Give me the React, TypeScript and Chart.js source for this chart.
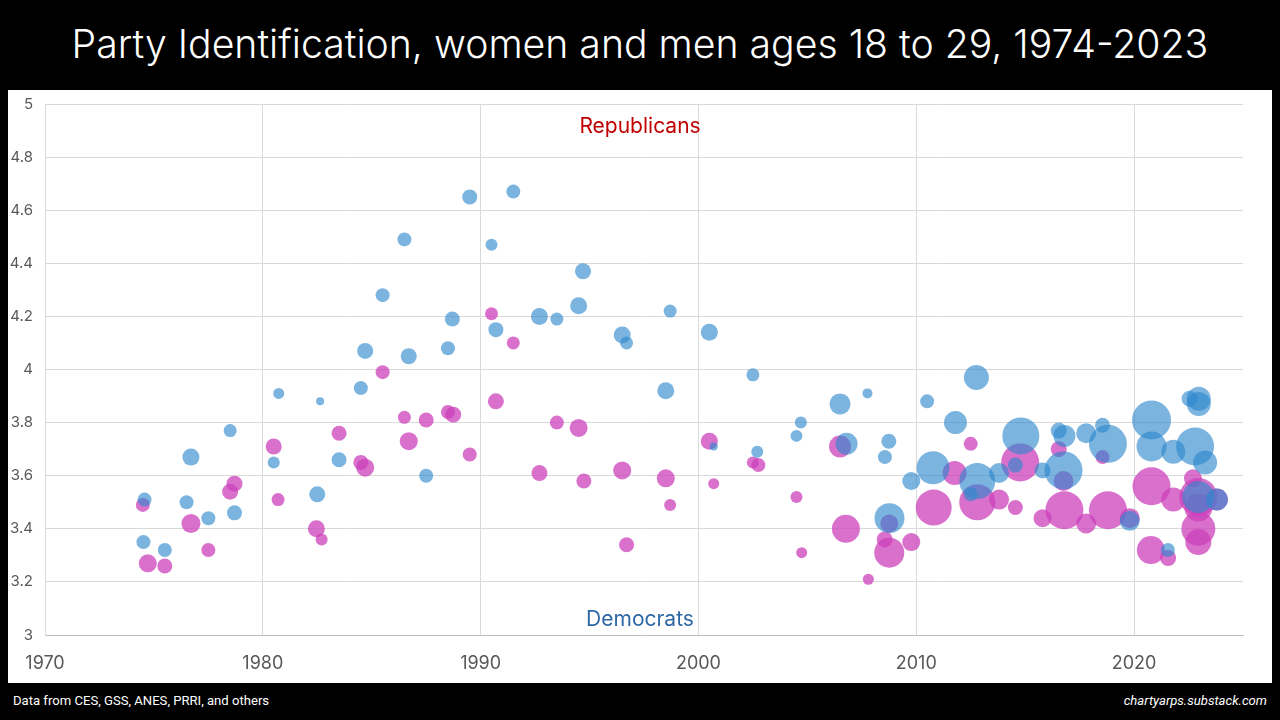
import React, { useEffect, useRef } from "react";
import { Chart, registerables } from "chart.js";

Chart.register(...registerables);

const titleText = "Party Identification, women and men ages 18 to 29, 1974-2023";
const sourceText = "Data from CES, GSS, ANES, PRRI, and others";
const siteText = "chartyarps.substack.com";

const xTicks = [1970, 1980, 1990, 2000, 2010, 2020];
const yTicks = [3, 3.2, 3.4, 3.6, 3.8, 4, 4.2, 4.4, 4.6, 4.8, 5];

// Men: survey year, mean party ID (1 = Democrat ... 7 = Republican), bubble size
const menYear = [
  1974.57, 1974.52, 1975.5, 1976.5, 1976.7, 1977.5, 1978.5, 1978.7, 1980.5, 1980.73,
  1982.5, 1982.63, 1983.5, 1984.5, 1984.7, 1985.5, 1986.5, 1986.7, 1987.5, 1988.5,
  1988.7, 1989.5, 1990.5, 1990.7, 1991.5, 1992.7, 1993.5, 1994.5, 1994.7, 1996.5,
  1996.7, 1998.5, 1998.7, 2000.5, 2000.7, 2002.5, 2002.7, 2004.5, 2004.7, 2006.5,
  2006.8, 2007.76, 2008.56, 2008.74, 2008.77, 2009.77, 2010.5, 2010.77, 2011.8, 2012.5,
  2012.76, 2012.8, 2013.8, 2014.55, 2014.8, 2015.8, 2016.54, 2016.8, 2016.76, 2017.8,
  2018.55, 2018.8, 2019.8, 2020.8, 2020.8, 2021.55, 2021.8, 2022.55, 2022.8, 2022.97,
  2022.97, 2023.26, 2022.95, 2023.8,
];
const menPid = [
  3.51, 3.35, 3.32, 3.5, 3.67, 3.44, 3.77, 3.46, 3.65, 3.91,
  3.53, 3.88, 3.66, 3.93, 4.07, 4.28, 4.49, 4.05, 3.6, 4.08,
  4.19, 4.65, 4.47, 4.15, 4.67, 4.2, 4.19, 4.24, 4.37, 4.13,
  4.1, 3.92, 4.22, 4.14, 3.71, 3.98, 3.69, 3.75, 3.8, 3.87,
  3.72, 3.91, 3.67, 3.73, 3.44, 3.58, 3.88, 3.63, 3.8, 3.53,
  3.97, 3.58, 3.61, 3.64, 3.75, 3.62, 3.77, 3.75, 3.62, 3.76,
  3.79, 3.72, 3.43, 3.81, 3.71, 3.32, 3.69, 3.89, 3.71, 3.89,
  3.87, 3.65, 3.52, 3.51,
];
const menSize = [
  7, 7, 7, 7, 8.5, 7, 6.5, 7.5, 6, 5.5,
  8, 4, 7.5, 7, 8, 7, 7, 8, 7, 7,
  7.5, 7.5, 6, 7.5, 7, 8.5, 6.5, 8.5, 8, 8.5,
  6.5, 8.5, 6.5, 8.5, 4, 6.5, 6, 6, 6, 10.5,
  11, 5, 7, 7.5, 15, 9, 7, 16.5, 11.5, 7,
  12.5, 18, 10, 7.5, 18.5, 8, 8, 11, 19, 10,
  7.5, 19, 10, 19.5, 15, 7, 12, 8, 19, 12,
  12, 12, 16, 11,
];

// Women: survey year, mean party ID, bubble size
const womenYear = [
  1974.49, 1974.72, 1975.5, 1976.7, 1977.5, 1978.5, 1978.7, 1980.5, 1980.7, 1982.46,
  1982.7, 1983.5, 1984.5, 1984.7, 1985.5, 1986.5, 1986.7, 1987.5, 1988.5, 1988.74,
  1989.5, 1990.5, 1990.7, 1991.5, 1992.7, 1993.5, 1994.5, 1994.74, 1996.5, 1996.7,
  1998.5, 1998.7, 2000.5, 2000.7, 2002.5, 2002.75, 2004.5, 2004.74, 2006.5, 2006.77,
  2007.8, 2008.55, 2008.76, 2008.76, 2009.77, 2010.8, 2011.76, 2012.5, 2012.8, 2013.8,
  2014.55, 2014.77, 2015.8, 2016.54, 2016.76, 2016.8, 2017.8, 2018.55, 2018.8, 2019.8,
  2020.77, 2020.8, 2021.56, 2021.8, 2022.7, 2022.95, 2022.95, 2022.95, 2022.95, 2023.8,
];
const womenPid = [
  3.49, 3.27, 3.26, 3.42, 3.32, 3.54, 3.57, 3.71, 3.51, 3.4,
  3.36, 3.76, 3.65, 3.63, 3.99, 3.82, 3.73, 3.81, 3.84, 3.83,
  3.68, 4.21, 3.88, 4.1, 3.61, 3.8, 3.78, 3.58, 3.62, 3.34,
  3.59, 3.49, 3.73, 3.57, 3.65, 3.64, 3.52, 3.31, 3.71, 3.4,
  3.21, 3.36, 3.42, 3.31, 3.35, 3.48, 3.61, 3.72, 3.5, 3.51,
  3.48, 3.65, 3.44, 3.7, 3.58, 3.47, 3.42, 3.67, 3.47, 3.44,
  3.32, 3.56, 3.29, 3.51, 3.59, 3.52, 3.48, 3.4, 3.35, 3.51,
];
const womenSize = [
  7, 9, 7.5, 9.5, 7, 8, 8, 8, 6.5, 8.5,
  6, 7.5, 7.5, 9, 7, 6.5, 9, 7.5, 7, 8,
  7, 6.5, 8, 6.5, 8, 7, 9, 7.5, 9, 7.5,
  9, 6, 8.5, 5.5, 6, 7, 6, 5.5, 11, 14,
  5.5, 8, 9, 15, 9, 18, 12, 7, 18, 10,
  7.5, 19, 9, 8, 10, 19, 10, 7, 19, 10,
  14, 19, 8, 12, 9, 19, 14, 17, 13, 11,
];

const BLUE = "rgba(46,136,205,0.63)";
const MAGENTA = "rgba(204,64,187,0.75)";
const FONT = "Inter, 'Noto Sans', 'Liberation Sans', sans-serif";

const zipBubbles = (xs: number[], ys: number[], rs: number[]) =>
  xs.map((x, i) => ({ x, y: ys[i], r: rs[i] }));

const partyLabels = {
  id: "partyLabels",
  afterDraw(chart: any) {
    const { ctx, chartArea } = chart;
    const yScale = chart.scales.y;
    const cx = (chartArea.left + chartArea.right) / 2 - 4;
    ctx.save();
    ctx.font = `21px ${FONT}`;
    ctx.textAlign = "center";
    ctx.textBaseline = "middle";
    ctx.fillStyle = "#c00000";
    ctx.fillText("Republicans", cx, yScale.getPixelForValue(4.913));
    ctx.fillStyle = "#2e69a6";
    ctx.fillText("Democrats", cx, yScale.getPixelForValue(3.058));
    ctx.restore();
  },
};

export default function App() {
  const canvasRef = useRef<HTMLCanvasElement | null>(null);

  useEffect(() => {
    document.body.style.margin = "0";
    const canvas = canvasRef.current;
    if (!canvas) return;
    const chart = new Chart(canvas, {
      type: "bubble",
      data: {
        datasets: [
          {
            label: "Men",
            data: zipBubbles(menYear, menPid, menSize),
            backgroundColor: BLUE,
            borderWidth: 0,
            hoverBorderWidth: 0,
            order: 0,
          },
          {
            label: "Women",
            data: zipBubbles(womenYear, womenPid, womenSize),
            backgroundColor: MAGENTA,
            borderWidth: 0,
            hoverBorderWidth: 0,
            order: 1,
          },
        ],
      },
      options: {
        animation: false,
        responsive: false,
        maintainAspectRatio: false,
        events: [],
        layout: { autoPadding: false, padding: { top: 14, right: 29, left: 0, bottom: 0 } },
        plugins: {
          legend: { display: false },
          tooltip: { enabled: false },
          title: { display: false },
        },
        scales: {
          x: {
            type: "linear",
            min: 1970,
            max: 2025,
            afterFit: (s: any) => {
              s.height = 48;
              s.paddingLeft = 0;
              s.paddingRight = 0;
            },
            afterBuildTicks: (s: any) => {
              s.ticks = xTicks.map((v) => ({ value: v }));
            },
            ticks: {
              includeBounds: false,
              color: "#595959",
              font: { family: FONT, size: 18 },
              padding: 18,
              maxRotation: 0,
              callback: (v: any) => String(v),
            },
            grid: { color: "#d9d9d9", drawTicks: false, lineWidth: 1 },
            border: { color: "#bfbfbf", width: 1 },
          },
          y: {
            type: "linear",
            min: 3,
            max: 5,
            afterFit: (s: any) => {
              s.width = 37;
              s.paddingTop = 0;
              s.paddingBottom = 0;
            },
            afterBuildTicks: (s: any) => {
              s.ticks = yTicks.map((v) => ({ value: v }));
            },
            ticks: {
              color: "#595959",
              font: { family: FONT, size: 15 },
              padding: 12,
              callback: (v: any) => String(Math.round(v * 10) / 10),
            },
            grid: { color: "#d9d9d9", drawTicks: false, lineWidth: 1 },
            border: { color: "#d9d9d9", width: 1 },
          },
        },
      },
      plugins: [partyLabels],
    });
    return () => chart.destroy();
  }, []);

  return (
    <div
      style={{
        position: "fixed",
        left: 0,
        top: 0,
        width: 1280,
        height: 720,
        background: "#000",
        fontFamily: FONT,
        overflow: "hidden",
      }}
    >
      <div
        style={{
          position: "absolute",
          left: 0,
          top: 0,
          width: 1280,
          height: 88,
          color: "#fff",
          fontSize: 39.2,
          fontWeight: 300,
          lineHeight: "88px",
          textAlign: "center",
          whiteSpace: "nowrap",
        }}
      >
        {titleText}
      </div>
      <div
        style={{
          position: "absolute",
          left: 8,
          top: 90,
          width: 1264,
          height: 593,
          background: "#fff",
        }}
      >
        <canvas ref={canvasRef} width={1264} height={593} style={{ display: "block" }} />
      </div>
      <div
        style={{
          position: "absolute",
          left: 13,
          top: 693,
          color: "#fff",
          fontSize: 13.1,
          fontFamily: "'Liberation Sans Narrow', 'Roboto', sans-serif",
          whiteSpace: "nowrap",
        }}
      >
        {sourceText}
      </div>
      <div
        style={{
          position: "absolute",
          right: 13,
          top: 693,
          color: "#fff",
          fontSize: 13.1,
          fontStyle: "italic",
          fontFamily: "'Liberation Sans Narrow', 'Roboto', sans-serif",
          whiteSpace: "nowrap",
        }}
      >
        {siteText}
      </div>
    </div>
  );
}
